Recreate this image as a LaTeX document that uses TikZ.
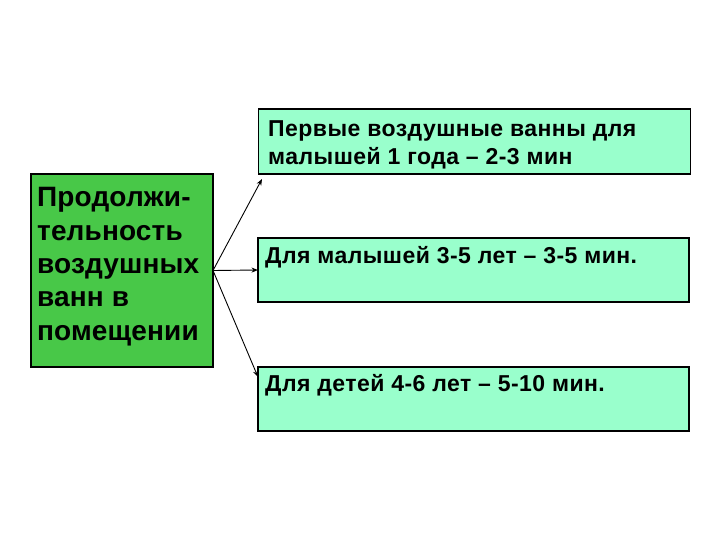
\documentclass[tikz,border=0pt]{standalone}
\usepackage{fontspec}
\setmainfont{Liberation Sans}
\usetikzlibrary{arrows.meta}
\definecolor{leftgreen}{RGB}{72,200,72}
\definecolor{mint}{RGB}{153,255,204}
\tikzset{
  box/.style={draw=black, line width=1.2pt, inner sep=0pt, outer sep=0pt},
  lefttext/.style={anchor=base west, inner sep=0pt, align=left, font=\fontsize{28}{33.3}\selectfont\bfseries\addfontfeatures{LetterSpace=0.5}},
  righttext/.style={anchor=base west, inner sep=0pt, align=left, font=\fontsize{23}{28}\selectfont\bfseries\addfontfeatures{LetterSpace=2}},
  arr/.style={-{Stealth[length=6.5pt,width=5pt]}, line width=0.9pt}
}
\begin{document}
\begin{tikzpicture}[x=1pt,y=-1pt]
\useasboundingbox (0,0) rectangle (720,540);
\node[box, fill=leftgreen, minimum width=182pt, minimum height=193pt] (L) at (122,270.5) {};
\node[box, fill=mint, minimum width=432pt, minimum height=65pt] (B1) at (474.5,141.5) {};
\node[box, fill=mint, minimum width=431pt, minimum height=64pt] (B2) at (473.5,270) {};
\node[box, fill=mint, minimum width=431pt, minimum height=64pt] (B3) at (473.5,399) {};
\node[lefttext] (LT) at (37,340) {Продолжи-\\тельность\\воздушных\\ванн в\\помещении};
\node[righttext] (T1) at (268,165) {Первые воздушные ванны для\\малышей 1 года – 2-3 мин};
\node[righttext] (T2) at (265,263) {Для малышей 3-5 лет – 3-5 мин.};
\node[righttext] (T3) at (265,391) {Для детей 4-6 лет – 5-10 мин.};
\coordinate (E1) at (262,179);
\coordinate (E3) at (258,377);
\draw[arr] (L.east) -- (E1);
\draw[arr] (L.east) -- (B2.west);
\draw[arr] (L.east) -- (E3);
\end{tikzpicture}
\end{document}
